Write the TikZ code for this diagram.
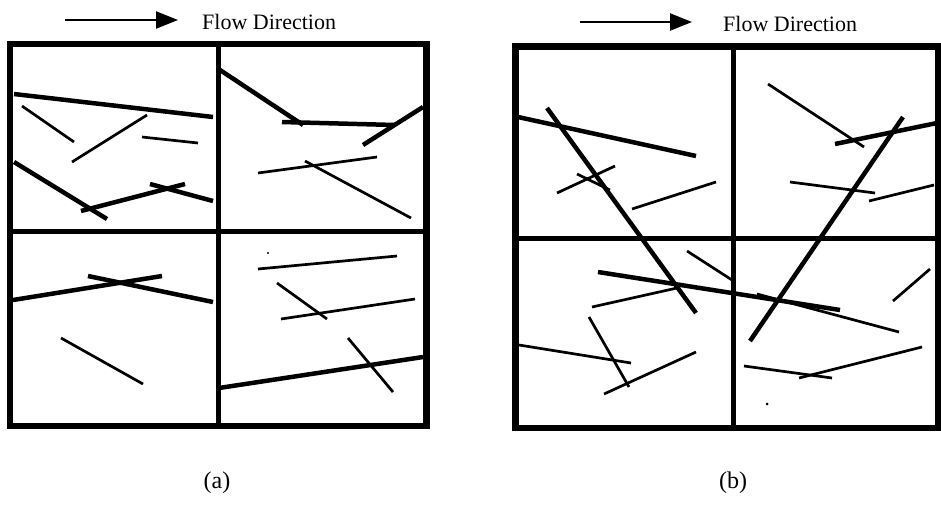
\documentclass[tikz,border=0pt]{standalone}
\usepackage{fontspec}
\setmainfont{Liberation Serif}
\usetikzlibrary{positioning, arrows.meta}

\begin{document}
\begin{tikzpicture}[x=1pt, y=-1pt,
        frame/.style={line width=6.5pt},
        divider/.style={line width=5pt},
        thickfibre/.style={line width=4.5pt},
        thinfibre/.style={line width=2.7pt},
        speck/.style={fill=black},
        flow/.style={-{Triangle[length=22pt, width=17pt]}, line width=2.2pt},
        flowlabel/.style={inner sep=0pt, font=\fontsize{22}{26}\selectfont},
        panellabel/.style={inner sep=0pt, font=\fontsize{24}{28}\selectfont}]

    \useasboundingbox (0,0) rectangle (941,504);

    % Flow direction arrows
    \coordinate (a-tail) at (65,20);
    \coordinate (a-head) at (178,20);
    \draw[flow] (a-tail) -- (a-head);
    \node[flowlabel, right=24pt of a-head, yshift=-2pt] (a-flow) {Flow Direction};

    \coordinate (b-tail) at (580,22);
    \coordinate (b-head) at (692,22);
    \draw[flow] (b-tail) -- (b-head);
    \node[flowlabel, right=31pt of b-head, yshift=-2pt] (b-flow) {Flow Direction};

    % Panel (a): frame and cells
    \draw[frame] (10,44) rectangle (426.5,426);
    \draw[divider] (218,44) -- (218,426);
    \draw[divider] (10,231.5) -- (426.5,231.5);

    % Panel (a): fibres, top left
    \draw[thickfibre] (14,94) -- (213,117);
    \draw[thinfibre]  (22,106) -- (74,142);
    \draw[thinfibre]  (72,162) -- (147,115);
    \draw[thinfibre]  (142,137) -- (198,143);
    \draw[thickfibre] (14,162) -- (107,219);
    \draw[thickfibre] (81,211) -- (185,184);
    \draw[thickfibre] (150,184) -- (213,201);
    % top right
    \draw[thickfibre] (220,70) -- (303,125);
    \draw[thickfibre] (282,122) -- (395,125);
    \draw[thickfibre] (363,145) -- (423,107);
    \draw[thinfibre]  (258,173) -- (377,157);
    \draw[thinfibre]  (305,161) -- (411,218);
    % bottom left
    \draw[thickfibre] (13,300) -- (162,276);
    \draw[thickfibre] (88,276) -- (213,302);
    \draw[thinfibre]  (61,338) -- (143,384);
    % bottom right
    \draw[thinfibre]  (258,269) -- (397,256);
    \draw[thinfibre]  (277,283) -- (327,319);
    \draw[thinfibre]  (281,319) -- (415,299);
    \draw[thinfibre]  (348,338) -- (393,392);
    \draw[thickfibre] (219,388) -- (423,357);
    \fill[speck] (268,253) circle (1.2pt);

    % Panel (b): frame and cells
    \draw[frame] (515.5,46.5) rectangle (938,428);
    \draw[divider] (733.5,46.5) -- (733.5,428);
    \draw[divider] (515.5,238.5) -- (938,238.5);

    % Panel (b): fibres, top left
    \draw[thickfibre] (518,117) -- (696,156);
    \draw[thickfibre] (547,108) -- (696,313);
    \draw[thinfibre]  (557,193) -- (615,166);
    \draw[thinfibre]  (577,174) -- (610,190);
    \draw[thinfibre]  (632,209) -- (716,182);
    % top right
    \draw[thinfibre]  (768,84) -- (864,147);
    \draw[thickfibre] (835,144) -- (937,123);
    \draw[thickfibre] (903,117) -- (750,341);
    \draw[thinfibre]  (790,182) -- (875,193);
    \draw[thinfibre]  (869,201) -- (934,185);
    % bottom left
    \draw[thinfibre]  (687,251) -- (732,280);
    \draw[thickfibre] (598,272) -- (840,310);
    \draw[thinfibre]  (592,307) -- (677,288);
    \draw[thinfibre]  (589,317) -- (629,387);
    \draw[thinfibre]  (519,345) -- (631,363);
    \draw[thinfibre]  (604,394) -- (696,352);
    % bottom right
    \draw[thinfibre]  (757,294) -- (899,332);
    \draw[thinfibre]  (893,301) -- (930,269);
    \draw[thinfibre]  (744,366) -- (832,378);
    \draw[thinfibre]  (799,378) -- (922,347);
    \fill[speck] (767,404) circle (1.5pt);

    % Panel captions
    \node[panellabel] (cap-a) at (217,483) {(a)};
    \node[panellabel] (cap-b) at (733,483) {(b)};
\end{tikzpicture}
\end{document}
